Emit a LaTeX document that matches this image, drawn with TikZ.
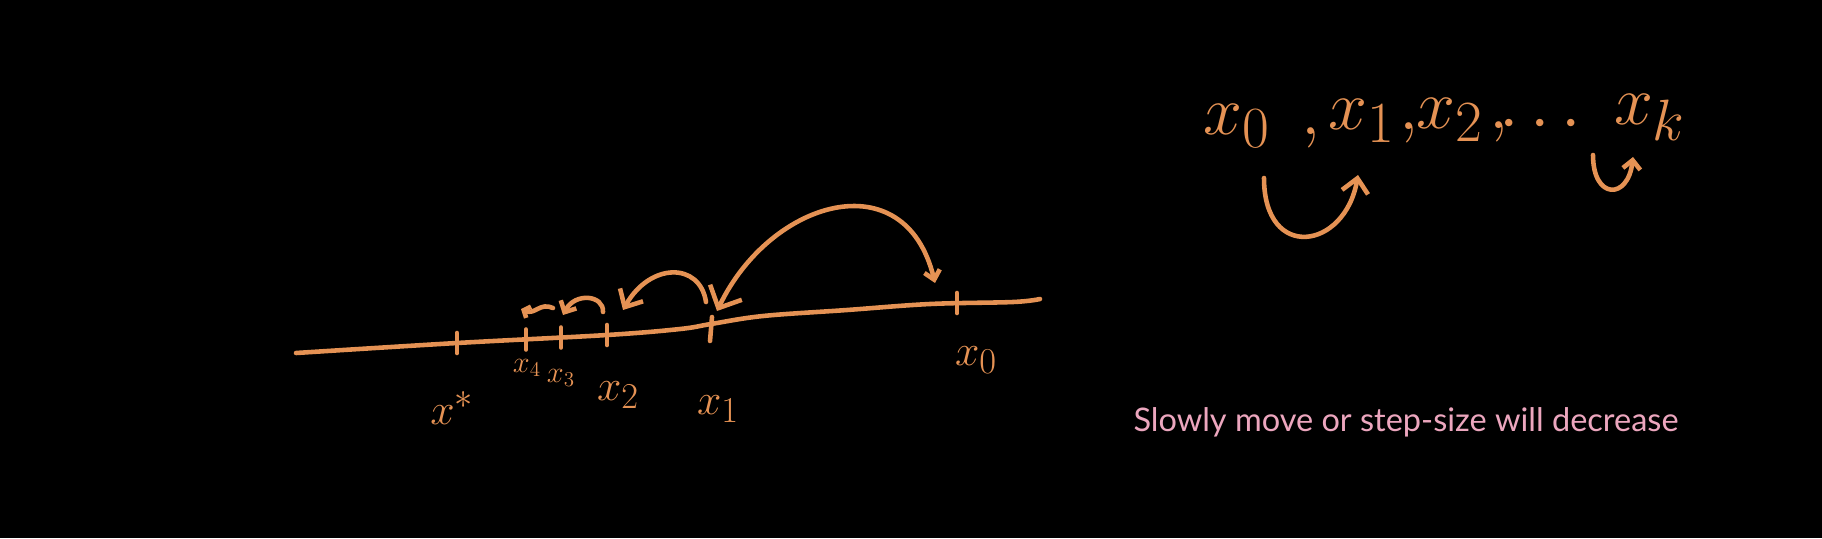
\documentclass[tikz,border=0pt]{standalone}
\usepackage{fontspec}
\usepackage{amsmath}
\usepackage{graphicx}
\usetikzlibrary{arrows.meta}
\newfontfamily\notefont{Lato}
\definecolor{chalk}{RGB}{229,146,84}
\definecolor{notepink}{RGB}{236,166,190}
\newcommand{\bigseq}[1]{\scalebox{1.6}{\Huge$#1$}}

\begin{document}
\begin{tikzpicture}[
    x=0.02cm, y=-0.02cm,
    pen/.style={draw=chalk, line width=2.6pt, line cap=round, line join=round},
    hop/.style={pen, -{Straight Barb[length=8pt, width=15pt]}},
    tickmark/.style={pen},
    lbl/.style={text=chalk, font=\Huge},
    smalllbl/.style={text=chalk, font=\fontsize{17}{20}\selectfont},
    seq/.style={text=chalk, anchor=base, inner sep=0pt}
]

\fill[black] (0,0) rectangle (1822,538);

% number line
\coordinate (left) at (296,353);
\coordinate (right) at (1040,299);
\coordinate (tstar) at (457,343);
\coordinate (t4) at (526,339.5);
\coordinate (t3) at (561,337.5);
\coordinate (t2) at (607,335);
\coordinate (t1) at (711,324);
\coordinate (t0) at (957,303);
\draw[pen] plot[smooth, tension=0.6] coordinates {(left) (tstar) (t2) (680,329) (t1)
  (763,316) (847,310) (930,304) (1013,302) (right)};

% ticks
\foreach \t in {tstar,t4,t3,t2,t0}
  \draw[tickmark] (\t) ++(0,-10) -- ++(0,20);
\draw[tickmark] (t1) ++(1,-7) -- ++(-2,24);

\node[lbl] (lstar) at (452,408) {$x^*$};
\node[smalllbl] (l4) at (527,368) {$x_4$};
\node[smalllbl] (l3) at (561,378) {$x_3$};
\node[lbl] (l2) at (618,395) {$x_2$};
\node[lbl] (l1) at (718,409) {$x_1$};
\node[lbl] (l0) at (976,360) {$x_0$};

% jumps
\coordinate (j0a) at (935,283);
\coordinate (j0b) at (717,311);
\coordinate (j1a) at (706,302);
\coordinate (j1b) at (623,310);
\coordinate (j2a) at (603,312);
\coordinate (j2b) at (563,315);
\coordinate (j3a) at (553,308);
\coordinate (j3b) at (521,309);
\draw[pen, {Straight Barb[length=5pt, width=9pt]}-{Straight Barb[length=10pt, width=20pt]}]
  (j0a) .. controls (905,160) and (770,200) .. (j0b);
\draw[hop] (j1a) .. controls (700,262) and (650,262) .. (j1b);
\draw[pen, -{Straight Barb[length=5pt, width=10pt]}] (j2a) .. controls (604,295) and (575,292) .. (j2b);
\draw[pen, -{Straight Barb[length=3pt, width=7pt]}] (j3a) .. controls (540,302) and (535,315) .. (j3b);

% sequence
\node[seq] (s0) at (1237,134) {\bigseq{x_0}};
\node[seq] (c0) at (1311,134) {\bigseq{,}};
\node[seq] (s1) at (1362,129) {\bigseq{x_1}};
\node[seq] (c1) at (1409,129) {\bigseq{,}};
\node[seq] (s2) at (1450,128) {\bigseq{x_2}};
\node[seq] (c2) at (1499,128) {\bigseq{,}};
\node[seq] (dots) at (1546,140) {\bigseq{\cdots}};
\node[seq] (sk) at (1650,124) {\bigseq{x_k}};

\coordinate (u0a) at (1264,178);
\coordinate (u0b) at (1358,175);
\coordinate (uka) at (1593,155);
\coordinate (ukb) at (1633,157);
\draw[hop] (u0a) .. controls (1264,262) and (1345,250) .. (u0b);
\draw[pen, -{Straight Barb[length=5pt, width=10pt]}] (uka) .. controls (1593,200) and (1628,200) .. (ukb);

\node[text=notepink, font=\notefont\fontsize{18.5}{22}\selectfont] (note) at (1406,422)
  {Slowly move or step-size will decrease};

\end{tikzpicture}
\end{document}
